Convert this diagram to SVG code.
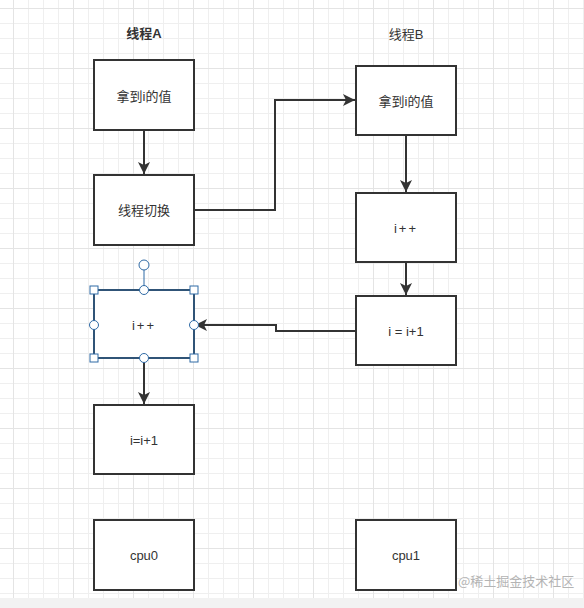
<svg xmlns="http://www.w3.org/2000/svg" width="584" height="608" viewBox="0 0 584 608">
<defs>
<pattern id="minor" x="13" y="8" width="15" height="15" patternUnits="userSpaceOnUse">
<path d="M0.5 0V15M0 0.5H15" fill="none" stroke="#efefef" stroke-width="1"/>
</pattern>
<pattern id="major" x="13" y="8" width="60" height="60" patternUnits="userSpaceOnUse">
<path d="M0.5 0V60M0 0.5H60" fill="none" stroke="#e4e4e4" stroke-width="1"/>
</pattern>
<marker id="arrow" viewBox="0 0 12 12" refX="12" refY="6" markerWidth="12" markerHeight="12" orient="auto" markerUnits="userSpaceOnUse">
<path d="M0 0L12 6L0 12L3 6Z" fill="#333"/>
</marker>
</defs>
<style>
.box{fill:#fff;stroke:#333;stroke-width:2}
.lbl{font-family:"Liberation Sans","Noto Sans CJK SC",sans-serif;font-size:13px;fill:#333;text-anchor:middle;dominant-baseline:central}
.edge{fill:none;stroke:#333;stroke-width:2}
.sel{fill:none;stroke:#2f6aa5;stroke-width:1}
.hs{fill:#fff;stroke:#2f6aa5;stroke-width:1}
</style>
<rect width="584" height="608" fill="#fff"/>
<rect width="584" height="598" fill="url(#minor)"/>
<rect width="584" height="598" fill="url(#major)"/>
<rect y="598" width="584" height="10" fill="#f2f2f2"/>

<g id="headers">
<text class="lbl" x="144" y="33" font-weight="bold">线程A</text>
<text class="lbl" x="406" y="34">线程B</text>
</g>

<g id="connectors">
<path class="edge" d="M144 130V174" marker-end="url(#arrow)"/>
<path class="edge" d="M194 210H275V100H355" marker-end="url(#arrow)"/>
<path class="edge" d="M406 135V192" marker-end="url(#arrow)"/>
<path class="edge" d="M406 262V295" marker-end="url(#arrow)"/>
<path class="edge" d="M356 331H276V325H195" marker-end="url(#arrow)"/>
<path class="edge" d="M144 358V404" marker-end="url(#arrow)"/>
</g>

<g id="a1"><rect class="box" x="94" y="60" width="100" height="70"/><text class="lbl" x="144" y="96">拿到i的值</text></g>
<g id="a2"><rect class="box" x="94" y="175" width="100" height="70"/><text class="lbl" x="144" y="210">线程切换</text></g>
<g id="a3"><rect class="box" x="94" y="290" width="100" height="68" stroke="#2f4f6f"/><text class="lbl" x="144" y="325" letter-spacing="2">i++</text></g>
<g id="a4"><rect class="box" x="94" y="405" width="100" height="69"/><text class="lbl" x="144" y="440">i=i+1</text></g>
<g id="a5"><rect class="box" x="94" y="520" width="100" height="70"/><text class="lbl" x="144" y="555">cpu0</text></g>
<g id="b1"><rect class="box" x="356" y="66" width="100" height="69"/><text class="lbl" x="406" y="101">拿到i的值</text></g>
<g id="b2"><rect class="box" x="356" y="193" width="100" height="69"/><text class="lbl" x="406" y="228" letter-spacing="2">i++</text></g>
<g id="b3"><rect class="box" x="356" y="296" width="100" height="69"/><text class="lbl" x="406" y="331">i = i+1</text></g>
<g id="b4"><rect class="box" x="356" y="520" width="100" height="70"/><text class="lbl" x="406" y="555">cpu1</text></g>

<g id="selection">
<rect x="94" y="290" width="100" height="68" fill="none" stroke="#2f6aa5" stroke-width="2" stroke-opacity="0.6"/>
<line class="sel" x1="144" y1="270" x2="144" y2="290"/>
<circle class="hs" cx="144" cy="265" r="5" stroke-width="2" stroke="#6fa3d8"/>
<rect class="hs" x="90" y="286" width="8" height="8"/>
<rect class="hs" x="190" y="286" width="8" height="8"/>
<rect class="hs" x="90" y="354" width="8" height="8"/>
<rect class="hs" x="190" y="354" width="8" height="8"/>
<circle class="hs" cx="144" cy="290" r="4.5"/>
<circle class="hs" cx="144" cy="358" r="4.5"/>
<circle class="hs" cx="94" cy="325" r="4.5"/>
<circle class="hs" cx="194" cy="325" r="4.5"/>
</g>

<text x="458" y="586" font-family="'Noto Sans CJK SC',sans-serif" font-size="13" fill="#b4b4b4">@稀土掘金技术社区</text>
</svg>
